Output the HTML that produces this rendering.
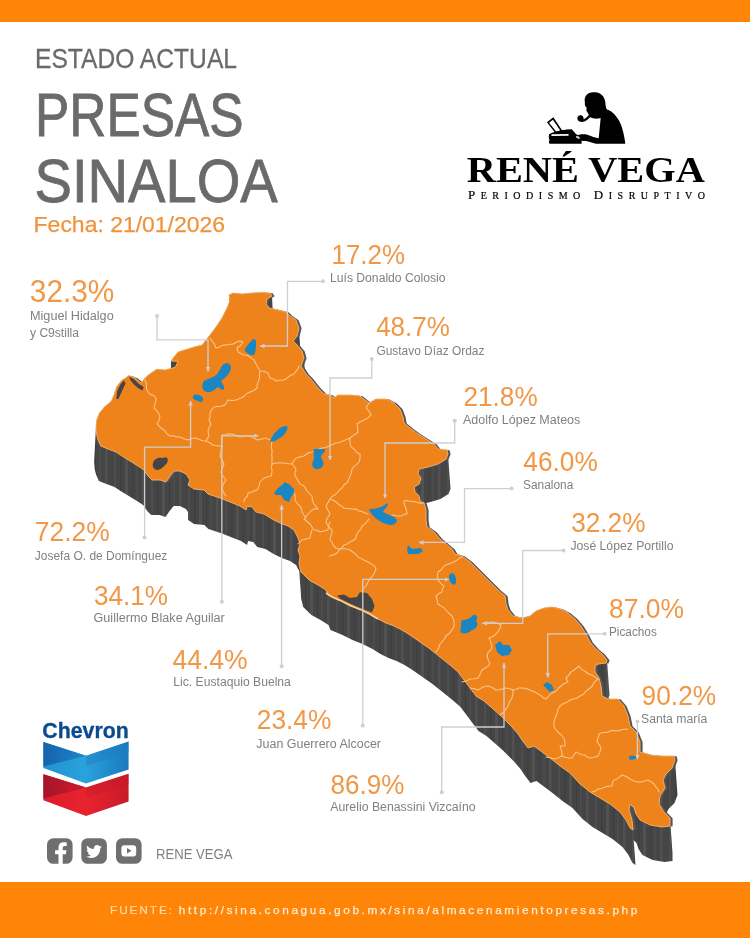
<!DOCTYPE html>
<html lang="es"><head><meta charset="utf-8"><title>Presas Sinaloa</title>
<style>html,body{margin:0;padding:0;background:#fff}svg{display:block}</style></head>
<body>
<svg width="750" height="938" viewBox="0 0 750 938">
<defs>
<pattern id="streak" width="37" height="10" patternUnits="userSpaceOnUse"><rect width="37" height="10" fill="#454545"/><rect x="3" width="2" height="10" fill="#4e4e4e"/><rect x="9" width="1.5" height="10" fill="#3f3f3f"/><rect x="14" width="3" height="10" fill="#525252"/><rect x="21" width="1" height="10" fill="#3d3d3d"/><rect x="25" width="2" height="10" fill="#4b4b4b"/><rect x="31" width="2.5" height="10" fill="#505050"/></pattern>
<marker id="arr" viewBox="0 0 10 10" refX="9" refY="5" markerWidth="5" markerHeight="5" orient="auto-start-reverse" markerUnits="userSpaceOnUse"><path d="M0,0.5L10,5L0,9.5Z" fill="#cfcfcf"/></marker>
</defs>
<rect width="750" height="938" fill="#fff"/>
<rect width="750" height="22" fill="#FF8508"/>
<rect y="882" width="750" height="56" fill="#FF8508"/>
<path d="M174.0,357.0L171.0,361.0L170.9,368.5L170.0,368.7L164.7,370.0L156.7,369.3L148.7,374.7L143.3,380.0L141.3,383.3L135.0,378.0L128.7,375.5L125.0,378.5L122.0,380.0L116.7,386.7L114.0,394.7L111.3,401.3L104.7,406.7L99.3,413.3L96.7,420.0L96.0,426.7L94.1,461.7L94.8,469.7L96.2,475.0L98.9,481.0L106.4,484.0L114.5,487.0L120.6,491.0L128.8,496.0L137.0,501.0L143.1,505.0L147.2,511.0L151.2,515.0L159.4,515.0L165.5,517.0L169.6,511.0L173.7,506.0L179.8,506.0L185.9,509.0L188.0,512.0L188.0,520.0L194.1,524.0L204.3,525.0L208.4,529.0L220.6,533.0L230.8,537.0L241.0,541.0L247.1,545.0L248.1,541.0L253.2,542.0L257.3,547.0L265.5,549.0L273.6,554.0L281.8,558.0L290.0,561.0L296.1,565.0L299.3,571.3L300.2,585.0L300.3,585.5L301.2,599.0L303.2,607.0L311.4,615.0L320.5,620.0L328.5,625.0L330.5,630.0L342.5,635.0L352.5,640.0L362.5,644.0L372.5,649.0L380.5,654.0L388.5,658.0L396.5,661.0L404.5,665.0L412.5,670.0L422.5,677.0L432.5,684.0L442.5,692.0L452.5,700.0L460.5,707.0L466.5,715.0L472.5,723.0L478.5,731.0L486.5,736.0L494.5,743.0L502.5,750.0L508.5,756.0L514.5,762.0L520.5,769.0L524.5,775.0L530.5,783.0L536.5,781.0L544.5,787.0L552.5,793.0L562.5,801.0L572.5,808.0L582.5,819.0L592.5,827.0L602.5,833.0L612.5,839.0L622.5,847.0L628.5,855.0L632.5,863.0L635.5,865.0L633.7,840.2L636.5,843.0L638.5,849.0L642.5,855.0L652.5,860.0L664.5,862.0L672.5,861.0L672.5,853.0L670.0,818.0L666.9,814.9L666.8,812.5L668.5,809.0L674.5,803.0L677.5,795.0L675.0,760.0L674.0,756.0L662.0,756.0L650.0,755.0L640.7,752.2L640.0,742.0L636.0,732.0L630.0,726.0L628.0,716.0L624.0,706.0L618.0,699.0L608.0,699.0L606.5,698.2L608.5,698.0L609.5,695.0L607.0,660.0L602.0,654.0L596.0,649.0L590.0,642.0L586.0,634.0L581.0,626.0L575.0,619.0L568.0,613.0L560.0,609.0L552.0,607.0L544.0,608.0L536.0,611.0L530.0,616.0L522.0,618.0L513.0,616.0L508.0,610.0L506.0,604.0L505.0,596.0L498.0,590.0L492.0,584.0L486.0,578.0L478.0,570.0L470.0,562.0L462.0,556.0L455.0,554.0L452.0,549.0L446.0,544.0L440.0,539.0L434.0,532.0L427.2,527.2L426.0,510.0L424.1,503.4L430.5,502.0L440.5,499.0L448.5,494.0L450.5,489.0L448.0,454.0L447.0,450.0L438.0,449.0L434.0,444.0L426.0,439.0L418.0,434.0L410.0,428.0L404.0,423.0L403.0,417.0L400.0,409.0L394.0,403.0L386.0,399.0L376.0,399.0L369.0,403.0L365.0,400.0L360.0,396.0L350.0,395.0L338.0,395.0L334.0,398.0L330.0,395.0L324.0,394.0L318.0,388.0L310.0,378.0L306.0,374.0L304.9,372.3L304.0,358.0L302.0,351.0L300.3,349.0L299.0,328.0L296.0,320.0L290.0,316.0L286.0,312.0L278.0,310.0L272.6,308.8L272.0,296.0L270.0,293.0L262.0,292.4L252.0,293.0L242.0,294.0L233.0,293.0L229.0,295.0L229.2,302.2L227.0,308.0L222.0,318.0L216.0,327.0L210.0,335.0L202.0,345.0L194.0,347.0L178.0,352.0Z" fill="url(#streak)"/>
<path d="M233.0,293.0L242.0,294.0L252.0,293.0L262.0,292.4L270.0,293.0L272.0,296.0L267.0,299.0L266.0,304.0L269.0,308.0L278.0,310.0L286.0,312.0L290.0,316.0L296.0,320.0L299.0,328.0L297.0,336.0L293.0,341.0L297.0,345.0L302.0,351.0L304.0,358.0L301.0,366.0L306.0,374.0L310.0,378.0L318.0,388.0L324.0,394.0L330.0,395.0L334.0,398.0L338.0,395.0L350.0,395.0L360.0,396.0L365.0,400.0L369.0,403.0L376.0,399.0L386.0,399.0L394.0,403.0L400.0,409.0L403.0,417.0L404.0,423.0L410.0,428.0L418.0,434.0L426.0,439.0L434.0,444.0L438.0,449.0L447.0,450.0L448.0,454.0L446.0,459.0L438.0,464.0L428.0,467.0L419.0,469.0L418.0,474.0L421.0,478.0L419.0,484.0L414.0,487.0L415.0,492.0L419.0,496.0L420.0,501.0L424.0,503.0L426.0,510.0L426.0,520.0L427.0,527.0L434.0,532.0L440.0,539.0L446.0,544.0L452.0,549.0L455.0,554.0L462.0,556.0L470.0,562.0L478.0,570.0L486.0,578.0L492.0,584.0L498.0,590.0L505.0,596.0L506.0,604.0L508.0,610.0L513.0,616.0L522.0,618.0L530.0,616.0L536.0,611.0L544.0,608.0L552.0,607.0L560.0,609.0L568.0,613.0L575.0,619.0L581.0,626.0L586.0,634.0L590.0,642.0L596.0,649.0L602.0,654.0L607.0,660.0L606.0,663.0L598.0,664.0L595.0,666.0L595.0,672.0L599.0,678.0L601.0,686.0L602.0,696.0L608.0,699.0L618.0,699.0L624.0,706.0L628.0,716.0L630.0,726.0L636.0,732.0L640.0,742.0L640.0,752.0L650.0,755.0L662.0,756.0L674.0,756.0L675.0,760.0L672.0,768.0L666.0,774.0L663.0,780.0L665.0,788.0L660.0,796.0L659.0,804.0L664.0,812.0L670.0,818.0L670.0,826.0L662.0,827.0L650.0,825.0L640.0,820.0L636.0,814.0L634.0,808.0L630.0,804.0L629.0,810.0L632.0,820.0L633.0,830.0L630.0,828.0L626.0,820.0L620.0,812.0L610.0,804.0L600.0,798.0L590.0,792.0L580.0,784.0L570.0,773.0L560.0,766.0L550.0,758.0L542.0,752.0L534.0,746.0L528.0,748.0L522.0,740.0L518.0,734.0L512.0,727.0L506.0,721.0L500.0,715.0L492.0,708.0L484.0,701.0L476.0,696.0L470.0,688.0L464.0,680.0L458.0,672.0L450.0,665.0L440.0,657.0L430.0,649.0L420.0,642.0L410.0,635.0L402.0,630.0L394.0,626.0L386.0,623.0L378.0,619.0L370.0,614.0L360.0,609.0L350.0,605.0L340.0,600.0L328.0,595.0L326.0,590.0L318.0,585.0L309.0,580.0L301.0,572.0L299.0,564.0L300.0,556.0L298.0,550.0L300.0,544.0L298.0,538.0L294.0,530.0L288.0,526.0L280.0,523.0L272.0,519.0L264.0,514.0L256.0,512.0L252.0,507.0L247.0,506.0L246.0,510.0L240.0,506.0L230.0,502.0L220.0,498.0L208.0,494.0L204.0,490.0L194.0,489.0L188.0,485.0L190.0,480.0L186.0,474.0L180.0,471.0L174.0,471.0L170.0,476.0L166.0,482.0L160.0,480.0L152.0,480.0L148.0,476.0L144.0,470.0L138.0,466.0L130.0,461.0L122.0,456.0L116.0,452.0L108.0,449.0L100.7,446.0L98.0,440.0L96.7,434.7L96.0,426.7L96.7,420.0L99.3,413.3L104.7,406.7L111.3,401.3L114.0,394.7L116.7,386.7L122.0,380.0L125.0,378.5L128.7,375.5L135.0,378.0L141.3,383.3L143.3,380.0L148.7,374.7L156.7,369.3L164.7,370.0L170.0,368.7L175.3,367.3L178.0,361.3L171.0,361.0L174.0,357.0L178.0,352.0L194.0,347.0L202.0,345.0L210.0,335.0L216.0,327.0L222.0,318.0L227.0,308.0L230.0,300.0L229.0,295.0Z" fill="#555" transform="translate(2.6,0.3)"/>
<path d="M233.0,293.0L242.0,294.0L252.0,293.0L262.0,292.4L270.0,293.0L272.0,296.0L267.0,299.0L266.0,304.0L269.0,308.0L278.0,310.0L286.0,312.0L290.0,316.0L296.0,320.0L299.0,328.0L297.0,336.0L293.0,341.0L297.0,345.0L302.0,351.0L304.0,358.0L301.0,366.0L306.0,374.0L310.0,378.0L318.0,388.0L324.0,394.0L330.0,395.0L334.0,398.0L338.0,395.0L350.0,395.0L360.0,396.0L365.0,400.0L369.0,403.0L376.0,399.0L386.0,399.0L394.0,403.0L400.0,409.0L403.0,417.0L404.0,423.0L410.0,428.0L418.0,434.0L426.0,439.0L434.0,444.0L438.0,449.0L447.0,450.0L448.0,454.0L446.0,459.0L438.0,464.0L428.0,467.0L419.0,469.0L418.0,474.0L421.0,478.0L419.0,484.0L414.0,487.0L415.0,492.0L419.0,496.0L420.0,501.0L424.0,503.0L426.0,510.0L426.0,520.0L427.0,527.0L434.0,532.0L440.0,539.0L446.0,544.0L452.0,549.0L455.0,554.0L462.0,556.0L470.0,562.0L478.0,570.0L486.0,578.0L492.0,584.0L498.0,590.0L505.0,596.0L506.0,604.0L508.0,610.0L513.0,616.0L522.0,618.0L530.0,616.0L536.0,611.0L544.0,608.0L552.0,607.0L560.0,609.0L568.0,613.0L575.0,619.0L581.0,626.0L586.0,634.0L590.0,642.0L596.0,649.0L602.0,654.0L607.0,660.0L606.0,663.0L598.0,664.0L595.0,666.0L595.0,672.0L599.0,678.0L601.0,686.0L602.0,696.0L608.0,699.0L618.0,699.0L624.0,706.0L628.0,716.0L630.0,726.0L636.0,732.0L640.0,742.0L640.0,752.0L650.0,755.0L662.0,756.0L674.0,756.0L675.0,760.0L672.0,768.0L666.0,774.0L663.0,780.0L665.0,788.0L660.0,796.0L659.0,804.0L664.0,812.0L670.0,818.0L670.0,826.0L662.0,827.0L650.0,825.0L640.0,820.0L636.0,814.0L634.0,808.0L630.0,804.0L629.0,810.0L632.0,820.0L633.0,830.0L630.0,828.0L626.0,820.0L620.0,812.0L610.0,804.0L600.0,798.0L590.0,792.0L580.0,784.0L570.0,773.0L560.0,766.0L550.0,758.0L542.0,752.0L534.0,746.0L528.0,748.0L522.0,740.0L518.0,734.0L512.0,727.0L506.0,721.0L500.0,715.0L492.0,708.0L484.0,701.0L476.0,696.0L470.0,688.0L464.0,680.0L458.0,672.0L450.0,665.0L440.0,657.0L430.0,649.0L420.0,642.0L410.0,635.0L402.0,630.0L394.0,626.0L386.0,623.0L378.0,619.0L370.0,614.0L360.0,609.0L350.0,605.0L340.0,600.0L328.0,595.0L326.0,590.0L318.0,585.0L309.0,580.0L301.0,572.0L299.0,564.0L300.0,556.0L298.0,550.0L300.0,544.0L298.0,538.0L294.0,530.0L288.0,526.0L280.0,523.0L272.0,519.0L264.0,514.0L256.0,512.0L252.0,507.0L247.0,506.0L246.0,510.0L240.0,506.0L230.0,502.0L220.0,498.0L208.0,494.0L204.0,490.0L194.0,489.0L188.0,485.0L190.0,480.0L186.0,474.0L180.0,471.0L174.0,471.0L170.0,476.0L166.0,482.0L160.0,480.0L152.0,480.0L148.0,476.0L144.0,470.0L138.0,466.0L130.0,461.0L122.0,456.0L116.0,452.0L108.0,449.0L100.7,446.0L98.0,440.0L96.7,434.7L96.0,426.7L96.7,420.0L99.3,413.3L104.7,406.7L111.3,401.3L114.0,394.7L116.7,386.7L122.0,380.0L125.0,378.5L128.7,375.5L135.0,378.0L141.3,383.3L143.3,380.0L148.7,374.7L156.7,369.3L164.7,370.0L170.0,368.7L175.3,367.3L178.0,361.3L171.0,361.0L174.0,357.0L178.0,352.0L194.0,347.0L202.0,345.0L210.0,335.0L216.0,327.0L222.0,318.0L227.0,308.0L230.0,300.0L229.0,295.0Z" fill="#EF831B" stroke="#f6b26b" stroke-width="0.9" stroke-linejoin="round"/>
<path d="M153,463 C154,458 160,457 163,458 C167,456 169,459 167,463 C164,466 162,469 158,470 C154,470 152,467 153,463Z" fill="#454545"/>
<path d="M337,595.5 L344,594.5 L350,598 L357,597 L360,592 L367,593 L372,599 L374.5,606 L372,612.5 L364,609.6 L356,606.3 L348,602.6 L340,598.8Z" fill="#454545"/>
<path d="M124,380.5 L125.6,383.3 L118.4,399 L116.4,399 L117.2,391 L120.6,384Z" fill="#454545"/>
<path d="M129,376.5 L134,379.2 L139.3,384.3 L143.6,387 L142.7,390.5 L138,388 L134,384.6 L130.3,380Z" fill="#454545"/>
<polyline points="326,593 332,597 340,600.4 350,605.4 360,609.4 370,614.2 378,619" fill="none" stroke="#f8cfa2" stroke-width="1.6"/>
<g fill="none" stroke="#f9c58c" stroke-width="1.05" stroke-linejoin="round" stroke-linecap="round">
<polyline points="210.0,338.0 212.2,341.2 214.5,344.4 216.0,348.0 219.1,347.2 221.8,345.4 225.0,345.0 229.0,344.6 233.0,344.0 236.4,342.3 240.0,341.0 243.0,342.0 240.5,345.5 237.0,348.0 238.0,352.0 241.0,353.5 244.0,355.0 247.2,355.3 250.0,357.0 254.0,360.0 255.6,363.0 257.0,366.0 260.0,371.0 264.2,371.3 268.0,373.0 270.0,378.0 273.3,378.9 276.0,381.0 279.3,380.2 282.8,380.2 286.0,379.0 288.3,376.8 291.1,375.3 294.0,374.0 295.8,371.4 297.9,369.0 299.0,366.0"/>
<polyline points="260.0,371.0 259.5,374.0 259.5,377.0 259.0,380.0 257.3,383.8 257.0,388.0 253.9,390.6 250.0,392.0 246.7,393.5 244.2,396.3 241.0,398.0 236.0,400.0 232.0,400.6 228.0,400.0 225.0,405.0 221.4,406.3 217.7,406.6 214.0,407.0 211.6,409.7 210.0,413.0 210.0,416.6 209.0,420.0 211.0,424.0 209.4,426.9 208.0,430.0 208.3,433.0 209.0,436.0 206.0,441.0 209.6,442.8 213.0,445.0 216.0,445.7 219.2,445.7 222.0,447.0"/>
<polyline points="369.0,403.0 366.0,408.0 369.1,411.1 371.0,415.0 367.8,417.9 364.0,420.0 360.4,421.7 357.0,424.0 357.6,428.0 358.0,432.0 355.5,434.2 352.6,435.9 350.0,438.0 346.5,439.6 343.0,441.0 339.6,442.6 335.8,443.1 332.4,444.5 329.0,446.0 325.6,447.4 322.0,448.0 318.6,449.2 315.3,450.6 312.0,452.0 308.0,453.0"/>
<polyline points="350.0,438.0 349.7,441.1 350.3,444.0 351.0,447.0 354.2,449.1 356.5,452.3 360.0,454.0 360.1,458.1 359.0,462.0 356.8,464.4 354.0,466.4 352.0,469.0 351.5,472.5 350.0,475.7 349.0,479.0 347.2,482.5 344.1,484.8 342.0,488.0 339.4,490.0 337.3,492.6 335.0,495.0 332.1,496.5 330.0,499.0 333.1,500.2 336.0,502.0 338.5,504.2 341.2,506.1 344.0,508.0 347.0,508.4 350.0,508.4 353.0,509.3 356.0,509.0 358.7,510.9 362.0,511.5 364.9,513.0 368.0,514.0"/>
<polyline points="424.0,503.0 419.9,503.2 416.0,502.0 413.0,501.4 410.0,501.3 407.1,500.5 404.0,501.0 404.2,504.4 405.8,507.4 406.4,510.7 407.0,514.0 403.9,514.4 401.2,516.1 398.0,516.0 395.0,515.6 392.0,515.0"/>
<polyline points="369.0,519.0 367.0,521.7 364.8,524.1 362.0,526.0 360.6,529.4 358.0,532.0 356.6,534.9 356.0,538.0 353.3,540.5 350.0,542.0 347.2,543.9 344.0,545.0 342.1,547.4 339.5,549.3 338.0,552.0 334.3,554.6 330.0,556.0"/>
<polyline points="330.0,499.0 328.1,502.5 326.0,506.0 327.9,510.0 330.0,514.0 327.5,517.7 326.0,522.0 327.6,525.0 329.5,527.7 332.0,530.0 331.7,533.4 330.8,536.7 330.0,540.0 332.2,542.5 333.5,545.7 336.0,548.0 339.4,549.2 343.1,548.4 346.6,549.0 350.0,550.0 352.9,552.0 355.6,554.3 358.0,557.0 361.3,558.6 364.6,560.5 368.0,562.0 370.9,563.7 373.8,565.4 376.0,568.0 375.1,571.0 374.0,574.0 371.7,577.1 369.0,580.0 367.4,583.0 366.0,586.0 363.4,588.6 362.0,592.0"/>
<polyline points="462.0,557.0 459.2,558.4 456.7,560.3 454.0,562.0 450.6,563.2 447.2,564.4 444.0,566.0 441.5,569.5 438.0,572.0 437.4,576.0 438.0,580.0 440.7,583.3 444.0,586.0 442.4,588.8 442.0,592.0 438.7,593.6 436.0,596.0 437.2,600.0 438.0,604.0 440.8,605.9 443.7,607.5 446.0,610.0 448.8,613.2 452.0,616.0 453.7,619.8 454.0,624.0 453.7,627.2 452.0,630.0 449.3,633.3 446.0,636.0 444.4,639.0 442.2,641.5 440.0,644.0 438.6,648.3 436.0,652.0"/>
<polyline points="501.0,625.0 500.0,628.4 498.2,631.3 496.0,634.0 492.8,636.6 489.0,638.0 490.7,641.9 492.0,646.0 491.0,649.7 488.1,652.4 487.0,656.0 488.3,660.1 490.0,664.0 487.7,666.4 484.9,668.3 482.0,670.0 480.2,674.1 478.0,678.0 474.0,678.7 470.0,679.0 466.2,681.1 462.0,682.0"/>
<polyline points="501.0,625.0 498.2,623.5 495.2,622.3 492.0,622.0 488.0,622.6 484.0,623.0"/>
<polyline points="513.0,690.0 516.0,689.3 518.9,688.0 522.0,688.0 526.2,688.4 530.0,690.0 534.1,691.8 538.0,694.0 540.9,695.3 543.1,697.8 546.0,699.0 548.3,696.3 550.8,693.8 554.0,692.0 556.8,690.5 558.7,688.0 561.0,686.0 564.2,683.5 568.0,682.0 566.0,678.0 568.7,675.4 570.8,672.1 574.0,670.0 576.5,668.0 579.0,666.0 580.8,668.6 583.3,670.4 586.0,672.0 588.8,674.0 592.2,675.2 595.1,677.1 598.0,679.0"/>
<polyline points="513.0,690.0 513.0,694.1 512.0,698.0 509.6,701.8 508.0,706.0 506.0,709.0 504.0,712.0 500.0,715.0"/>
<polyline points="513.0,690.0 509.1,688.6 505.0,688.0 502.1,688.9 499.1,689.8 496.0,690.0 492.2,687.6 488.0,686.0 484.4,686.6 481.1,688.1 478.0,690.0 474.1,688.5 470.0,688.0"/>
<polyline points="598.0,679.0 595.6,680.9 593.7,683.2 592.3,686.0 590.0,688.0 587.5,690.0 585.1,692.2 583.0,694.6 580.0,696.0 576.9,698.0 573.5,699.0 570.0,700.0 566.9,702.3 563.2,703.7 560.0,706.0 558.0,709.1 557.4,712.7 556.0,716.0 554.6,719.2 553.9,722.5 554.0,726.0 555.4,729.4 558.0,732.0 561.2,734.8 564.0,738.0 564.9,741.9 565.0,746.0 560.0,746.0 561.1,749.2 561.8,752.6 562.0,756.0 558.2,757.9 554.0,759.0 550.0,757.8 546.0,757.0"/>
<polyline points="562.0,756.0 565.2,757.3 568.6,757.9 572.0,758.0 574.0,755.0 576.0,752.0 578.7,753.4 581.4,754.8 584.7,755.0 587.1,757.0 590.0,758.0 594.2,757.6 598.0,756.0 599.9,752.2 601.0,748.0 599.3,744.8 597.0,742.0 598.0,738.0 599.0,734.0 602.5,732.5 606.5,732.4 610.0,731.0 613.0,730.4 616.1,730.8 619.1,730.8 622.0,729.5 625.0,729.2 628.0,729.0"/>
<polyline points="592.0,792.0 595.3,791.1 598.0,789.0 601.6,788.6 604.9,787.0 608.4,786.2 612.0,786.0 612.5,782.8 614.0,780.0 617.0,778.9 619.6,777.1 622.0,775.0 626.3,776.5 630.0,779.0 633.8,781.0 638.0,782.0 641.5,782.1 644.7,780.9 648.0,780.0 651.1,781.8 654.0,784.0 655.6,786.7 657.8,789.0 659.0,792.0"/>
<polyline points="244.0,502.0 244.6,498.7 247.4,496.3 248.0,493.0 251.1,492.2 254.0,491.0 257.0,490.0 259.1,486.2 260.0,482.0 264.0,478.0 267.5,476.9 271.0,476.0 271.8,473.0 272.0,470.0 271.3,467.0 272.0,464.0 275.3,463.3 278.6,463.0 282.0,463.0 285.4,462.9 288.7,463.8 292.0,464.0 293.7,460.8 296.0,458.0 300.0,456.9 304.0,456.0 308.0,453.0"/>
<polyline points="292.0,464.0 294.5,466.7 296.0,470.0 294.9,472.9 295.0,476.0 296.9,478.5 298.4,481.3 300.0,484.0 304.0,486.0 305.9,489.1 308.0,492.0 312.0,496.0 312.4,500.2 314.0,504.0 316.1,506.4 318.0,509.0 314.9,508.8 312.0,510.0 308.0,514.0 306.0,516.5 304.0,519.0 307.0,521.5 310.0,524.0 312.0,527.0 314.0,530.0 317.2,530.3 320.0,532.0 324.0,530.9 328.0,530.0 328.5,525.9 330.0,522.0"/>
<polyline points="294.0,493.0 295.3,496.4 295.0,500.0 297.1,503.3 300.0,506.0 301.5,508.8 302.0,512.0 304.0,515.0 306.0,518.0"/>
<polyline points="312.0,530.0 310.7,533.9 310.0,538.0 306.0,538.9 302.0,540.0 298.0,544.0"/>
<polyline points="222.0,447.0 221.7,444.0 222.0,441.0 222.1,438.0 222.0,435.0 225.4,435.1 228.6,433.7 232.0,434.0 236.0,435.6 240.0,437.0 243.3,436.3 246.6,436.0 250.0,436.0 253.8,438.4 258.0,440.0 262.0,439.0 266.0,438.0 269.0,439.6 272.0,441.0 271.6,444.3 271.3,447.6 272.1,450.9 271.8,454.1 272.0,457.4 272.0,460.7 272.0,464.0"/>
<polyline points="222.0,447.0 221.0,449.9 220.7,453.0 220.0,456.0 222.0,460.0 224.0,464.0 222.5,468.0 221.0,472.0 222.1,475.0 224.1,477.5 226.0,480.0 223.5,483.7 222.0,488.0 223.4,492.3 226.0,496.0"/>
<polyline points="145.0,380.0 146.1,382.9 146.4,386.0 146.6,389.2 148.0,392.0 150.3,394.4 153.7,395.5 156.0,398.0 155.9,401.5 154.8,404.7 154.0,408.0 156.5,410.3 158.3,413.1 160.0,416.0 159.1,420.2 157.0,424.0 159.2,426.2 161.4,428.3 164.0,430.0 166.6,433.4 170.0,436.0 173.4,435.8 176.6,437.0 180.0,437.0 183.9,438.7 188.0,440.0 191.9,438.4 196.0,438.0 199.2,439.6 202.5,440.7 206.0,441.0"/>
</g>
<path d="M252,340 C254,338 256,339 256,342 C256,347 256,352 254,355 C251,356 248,354 245,351 C245,347 249,344 252,340Z" fill="#1C86C2"/>
<path d="M224,364 C228,362 231,364 231,368 C230,374 225,378 221,381 C222,384 225,386 224,389 C222,391 219,388 218,387 C215,389 212,393 207,392 C202,391 201,385 204,381 C208,378 214,378 218,373 C220,370 221,366 224,364Z" fill="#1C86C2"/>
<path d="M193,396 C196,393 201,395 203,398 C204,402 200,403 198,401 C195,400 192,399 193,396Z" fill="#1C86C2"/>
<path d="M272,437 C275,431 282,425 287,426 C289,429 285,435 280,438 C276,441 271,443 270,441Z" fill="#1C86C2"/>
<path d="M314,449 L325,449 C326,453 320,454 321,458 C325,462 324,468 318,469 C313,470 311,465 313,461 C316,456 312,453 314,449Z" fill="#1C86C2"/>
<path d="M274,493 L278,488 L282,485 L285,482 L290,485 L294,489 L294,493 L291,497 L289,502 L284,500 L281,495 L276,495Z" fill="#1C86C2"/>
<path d="M369,509 C376,509 383,507 387,503 C390,505 384,509 383,512 C388,515 395,516 397,520 C397,524 393,525 390,525 C385,524 381,522 378,520 C374,517 370,513 369,509Z" fill="#1C86C2"/>
<path d="M408,545 L412,549 L421,548 L423,551 L418,554 L408,554 L407,550Z" fill="#1C86C2"/>
<path d="M450,574 C453,572 456,575 456,580 C457,584 454,586 452,584 C449,581 448,577 450,574Z" fill="#1C86C2"/>
<path d="M462,620 C466,620 470,619 473,615 C476,614 479,617 476,621 C479,624 477,629 472,630 C468,634 462,635 460,631 C462,627 460,623 462,620Z" fill="#1C86C2"/>
<path d="M495,645 L500,641 L503,645 L509,645 L512,650 L509,655 L502,656 L497,652Z" fill="#1C86C2"/>
<path d="M543,685 L547,682 L552,685 L554,690 L550,692 L546,688Z" fill="#1C86C2"/>
<path d="M629,756.3 C631,755 635.5,755.3 637,757 C636.5,759.6 631,760.4 629,759Z" fill="#1C86C2"/>
<g fill="none" stroke="#cfcfcf" stroke-width="1.3">
<polyline points="157,316 157,339.8 208,339.8 208,371.5" marker-end="url(#arr)"/>
<polyline points="323,281.3 287.5,281.3 287.5,346 260,346" marker-end="url(#arr)"/>
<polyline points="371.8,359 371.8,378 330,378 330,460" marker-end="url(#arr)"/>
<polyline points="454.7,420.7 454.7,443 385,443 385,498" marker-end="url(#arr)"/>
<polyline points="511.6,488.6 464.5,488.6 464.5,542.4 419,542.4" marker-end="url(#arr)"/>
<polyline points="563.6,550.5 522.7,550.5 522.7,623.3 482.4,623.3" marker-end="url(#arr)"/>
<polyline points="604.7,633.8 547.8,633.8 547.8,677.5" marker-end="url(#arr)"/>
<polyline points="637.4,721.6 637.4,759" marker-end="url(#arr)"/>
<polyline points="144.6,537.5 144.6,447.2 190.6,447.2 190.6,401" marker-end="url(#arr)"/>
<polyline points="221.9,601.8 221.8,435.8 258.3,435.8" marker-end="url(#arr)"/>
<polyline points="281.6,666.3 281.6,505" marker-end="url(#arr)"/>
<polyline points="362.8,725.6 362.8,579.4 449,579.4" marker-end="url(#arr)"/>
<polyline points="441.7,792.3 441.7,727 504,727 504,663" marker-end="url(#arr)"/>
</g>
<g fill="#cfcfcf">
<circle cx="157" cy="316" r="2"/>
<circle cx="323" cy="281.3" r="2"/>
<circle cx="371.8" cy="359" r="2"/>
<circle cx="454.7" cy="420.7" r="2"/>
<circle cx="511.6" cy="488.6" r="2"/>
<circle cx="563.6" cy="550.5" r="2"/>
<circle cx="604.7" cy="633.8" r="2"/>
<circle cx="637.4" cy="721.6" r="2"/>
<circle cx="144.6" cy="537.5" r="2"/>
<circle cx="221.9" cy="601.8" r="2"/>
<circle cx="281.6" cy="666.3" r="2"/>
<circle cx="362.8" cy="725.6" r="2"/>
<circle cx="441.7" cy="792.3" r="2"/>
</g>
<g font-family="'Liberation Sans', Arial, sans-serif">
<text x="35" y="68.3" font-size="28" textLength="202" lengthAdjust="spacingAndGlyphs" fill="#6a6a6a" stroke="#6a6a6a" stroke-width="0.3">ESTADO ACTUAL</text>
<text x="35" y="136.3" font-size="60.5" textLength="208.5" lengthAdjust="spacingAndGlyphs" fill="#6a6a6a" stroke="#6a6a6a" stroke-width="0.8">PRESAS</text>
<text x="34.5" y="201.8" font-size="60.5" textLength="243.3" lengthAdjust="spacingAndGlyphs" fill="#6a6a6a" stroke="#6a6a6a" stroke-width="0.8">SINALOA</text>
<text x="33.6" y="232.2" font-size="22.4" textLength="191.5" lengthAdjust="spacingAndGlyphs" fill="#EE943C" stroke="#F0923A" stroke-width="0.25">Fecha: 21/01/2026</text>
<text x="29.8" y="301.6" font-size="31" textLength="84.6" lengthAdjust="spacingAndGlyphs" fill="#F19746" >32.3%</text>
<text x="30" y="320" font-size="12" textLength="83.7" lengthAdjust="spacingAndGlyphs" fill="#808080" >Miguel Hidalgo</text>
<text x="30" y="337.3" font-size="12" textLength="49" lengthAdjust="spacingAndGlyphs" fill="#808080" >y C9stilla</text>
<text x="331.5" y="263.9" font-size="27.8" textLength="73.5" lengthAdjust="spacingAndGlyphs" fill="#F19746" >17.2%</text>
<text x="330" y="282" font-size="12" textLength="115.5" lengthAdjust="spacingAndGlyphs" fill="#808080" >Luís Donaldo Colosio</text>
<text x="376.2" y="336.4" font-size="27.8" textLength="73.6" lengthAdjust="spacingAndGlyphs" fill="#F19746" >48.7%</text>
<text x="376.4" y="354.6" font-size="12" textLength="108" lengthAdjust="spacingAndGlyphs" fill="#808080" >Gustavo Díaz Ordaz</text>
<text x="463.5" y="405.6" font-size="27.8" textLength="74.2" lengthAdjust="spacingAndGlyphs" fill="#F19746" >21.8%</text>
<text x="463" y="423.5" font-size="12" textLength="117.3" lengthAdjust="spacingAndGlyphs" fill="#808080" >Adolfo López Mateos</text>
<text x="523.3" y="470.8" font-size="27.8" textLength="74.6" lengthAdjust="spacingAndGlyphs" fill="#F19746" >46.0%</text>
<text x="523" y="488.6" font-size="12" textLength="50.3" lengthAdjust="spacingAndGlyphs" fill="#808080" >Sanalona</text>
<text x="571.2" y="531.9" font-size="27.8" textLength="74.3" lengthAdjust="spacingAndGlyphs" fill="#F19746" >32.2%</text>
<text x="570.4" y="550" font-size="12" textLength="103.1" lengthAdjust="spacingAndGlyphs" fill="#808080" >José López Portillo</text>
<text x="609" y="618.4" font-size="27.8" textLength="75" lengthAdjust="spacingAndGlyphs" fill="#F19746" >87.0%</text>
<text x="609" y="636.3" font-size="12" textLength="47.8" lengthAdjust="spacingAndGlyphs" fill="#808080" >Picachos</text>
<text x="641.6" y="705.3" font-size="27.8" textLength="74.6" lengthAdjust="spacingAndGlyphs" fill="#F19746" >90.2%</text>
<text x="641" y="723.4" font-size="12" textLength="66.4" lengthAdjust="spacingAndGlyphs" fill="#808080" >Santa maría</text>
<text x="34.8" y="541.1" font-size="27.8" textLength="75" lengthAdjust="spacingAndGlyphs" fill="#F19746" >72.2%</text>
<text x="34.8" y="559.5" font-size="12" textLength="132.5" lengthAdjust="spacingAndGlyphs" fill="#808080" >Josefa O. de Domínguez</text>
<text x="94" y="604.7" font-size="27.8" textLength="74" lengthAdjust="spacingAndGlyphs" fill="#F19746" >34.1%</text>
<text x="93.5" y="622.3" font-size="12" textLength="131.3" lengthAdjust="spacingAndGlyphs" fill="#808080" >Guillermo Blake Aguilar</text>
<text x="172.5" y="668.5" font-size="27.8" textLength="75.2" lengthAdjust="spacingAndGlyphs" fill="#F19746" >44.4%</text>
<text x="173.3" y="686" font-size="12" textLength="117.6" lengthAdjust="spacingAndGlyphs" fill="#808080" >Lic. Eustaquio Buelna</text>
<text x="256.8" y="729.4" font-size="27.8" textLength="74.5" lengthAdjust="spacingAndGlyphs" fill="#F19746" >23.4%</text>
<text x="256.3" y="747.5" font-size="12" textLength="124.7" lengthAdjust="spacingAndGlyphs" fill="#808080" >Juan Guerrero Alcocer</text>
<text x="330.5" y="793.8" font-size="27.8" textLength="73.8" lengthAdjust="spacingAndGlyphs" fill="#F19746" >86.9%</text>
<text x="330.2" y="811.4" font-size="12" textLength="145.4" lengthAdjust="spacingAndGlyphs" fill="#808080" >Aurelio Benassini Vizcaíno</text>
<text x="156" y="859.3" font-size="14.4" textLength="76.5" lengthAdjust="spacingAndGlyphs" fill="#808080" >RENE VEGA</text>
<text x="110" y="914" font-size="11.8" textLength="62" lengthAdjust="spacing" fill="#FFD9A6" stroke="#FFD9A6" stroke-width="0.2">FUENTE:</text>
<text x="178.8" y="914" font-size="11.8" textLength="458.5" lengthAdjust="spacing" fill="#FFEBD2" stroke="#FFEBD2" stroke-width="0.25">http://sina.conagua.gob.mx/sina/almacenamientopresas.php</text>
<text x="42.3" y="737.5" font-size="22.5" textLength="86.4" lengthAdjust="spacingAndGlyphs" fill="#0B4A8F" font-weight="bold" stroke="#0B4A8F" stroke-width="0.35">Chevron</text>
</g>
<g transform="translate(540,85) scale(0.13333)" fill="#000">
<path d="M410,55 C450,52 485,85 490,130 C492,160 495,178 505,186 C530,190 560,215 590,262 C615,305 632,370 640,440 L418,440 C395,432 365,424 345,420 C320,420 300,415 285,408 C270,398 268,385 282,377 C300,368 330,368 350,372 C385,385 420,398 440,400 C445,360 450,300 455,248 C440,252 415,255 400,250 C385,248 375,242 372,232 L352,198 C345,190 348,180 352,172 C340,165 333,150 337,130 C330,105 340,75 365,62 C380,55 395,54 410,55Z"/>
<path d="M280,250 C280,230 299,222 314,229 C326,236 330,250 326,259 C342,252 356,240 367,224 L380,236 C364,258 338,275 316,277 C296,279 280,268 280,250Z"/>
<path d="M52,280 L100,241 L170,346 L118,364Z M68,283 L97,261 L152,341 L124,352Z" fill-rule="evenodd"/>
<path d="M70,368 C100,352 150,340 200,334 L238,332 C252,345 262,362 275,372 L312,398 L312,440 L72,440 C64,430 66,420 72,412 C64,400 64,380 70,368Z M86,370 L214,368 L214,380 L86,382Z" fill-rule="evenodd"/>
<path d="M268,388 C272,380 282,380 290,386 C298,392 302,400 296,404 C286,404 274,398 268,388Z" fill="#fff" opacity="0.85"/>
</g>
<g font-family="'Liberation Serif', 'Times New Roman', serif" fill="#000">
<text x="466.8" y="182.3" font-size="36.7" font-weight="bold" textLength="238" lengthAdjust="spacingAndGlyphs">RENÉ VEGA</text>
<text x="468" y="199" font-size="10" textLength="237" lengthAdjust="spacing" stroke="#000" stroke-width="0.2"><tspan font-size="13">P</tspan>ERIODISMO <tspan font-size="13">D</tspan>ISRUPTIVO</text>
</g>
<defs>
<linearGradient id="cb" x1="0" y1="0" x2="1" y2="0"><stop offset="0" stop-color="#1F93D1"/><stop offset="0.5" stop-color="#2AA2DB"/><stop offset="1" stop-color="#1B78BE"/></linearGradient>
<linearGradient id="cr" x1="0" y1="0" x2="1" y2="0"><stop offset="0" stop-color="#D91E2E"/><stop offset="0.5" stop-color="#E8232E"/><stop offset="1" stop-color="#C81B2B"/></linearGradient>
<linearGradient id="cbd" x1="0" y1="0" x2="1" y2="0"><stop offset="0" stop-color="#1762AC"/><stop offset="1" stop-color="#1F86CA"/></linearGradient>
<linearGradient id="crd" x1="0" y1="0" x2="1" y2="0"><stop offset="0" stop-color="#A51528"/><stop offset="1" stop-color="#CE1C2C"/></linearGradient>
</defs>
<path d="M43.4,742 L86,755.8 L128.6,741.6 L128.6,769.4 L86,783.5 L43.4,768Z" fill="url(#cb)"/>
<path d="M43.4,742 L86,755.8 L43.4,766.5Z" fill="url(#cbd)"/>
<path d="M128.6,741.6 L128.6,752.5 L86,766 L86,755.8Z" fill="#1C7CC4" opacity="0.45"/>
<path d="M43.4,774.3 L86,787.4 L128.6,773.8 L128.6,801.4 L86,816 L43.4,800.2Z" fill="url(#cr)"/>
<path d="M43.4,774.3 L86,787.4 L43.4,798.5Z" fill="url(#crd)"/>
<path d="M128.6,773.8 L128.6,784.5 L86,798 L86,787.4Z" fill="#C41A2B" opacity="0.4"/>
<g fill="#6f6f6f">
<rect x="47" y="838.2" width="25.6" height="25.6" rx="6.3"/>
<rect x="81.3" y="838.2" width="25.6" height="25.6" rx="6.3"/>
<rect x="116" y="838.2" width="25.6" height="25.6" rx="6.3"/>
</g>
<g transform="translate(-1.7,0.3)"><path d="M64.4,863.8 L64.4,854 L67.6,854 L68.2,850 L64.4,850 L64.4,847.6 C64.4,846.3 65,845.6 66.4,845.6 L68.4,845.6 L68.4,842.2 C67.6,842.1 66.4,842 65.2,842 C62.2,842 60.2,843.9 60.2,847.1 L60.2,850 L56.8,850 L56.8,854 L60.2,854 L60.2,863.8Z" fill="#fff"/></g>
<g transform="translate(86.1,843.6) scale(0.66)"><path d="M24,4.6c-0.9,0.4-1.8,0.7-2.8,0.8c1-0.6,1.8-1.6,2.2-2.7c-1,0.6-2,1-3.1,1.2c-0.9-1-2.2-1.6-3.6-1.6c-2.7,0-4.9,2.2-4.9,4.9c0,0.4,0,0.8,0.1,1.1C7.7,8.1,4.1,6.100,1.700,3.100C1.200,3.900,1,4.700,1,5.600c0,1.700,0.900,3.200,2.200,4.100C2.400,9.700,1.600,9.500,1,9.100c0,0,0,0,0,0.100c0,2.400,1.700,4.400,3.900,4.800c-0.400,0.100-0.800,0.200-1.300,0.200c-0.300,0-0.600,0-0.900-0.100c0.600,2,2.400,3.400,4.600,3.400c-1.700,1.300-3.800,2.100-6.100,2.100c-0.400,0-0.800,0-1.200-0.100c2.200,1.400,4.800,2.200,7.500,2.200c9.100,0,14-7.500,14-14c0-0.200,0-0.400,0-0.600C22.500,6.400,23.300,5.500,24,4.600z" fill="#fff"/></g>
<rect x="121.4" y="845.2" width="14.8" height="11.2" rx="3" fill="#fff"/>
<path d="M127,848 L131.6,850.8 L127,853.6Z" fill="#6f6f6f"/>
</svg>
</body></html>
